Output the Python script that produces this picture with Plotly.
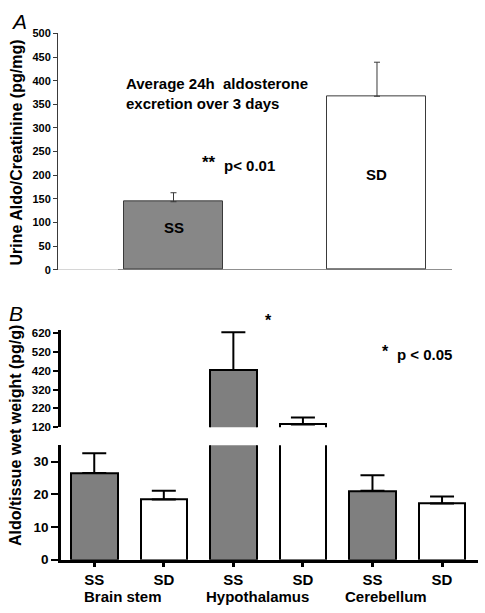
import plotly.graph_objects as go

W, H = 485, 613

# ---------------- Panel A data ----------------
a_groups = ["SS", "SD"]
a_values = [144, 367]
a_errors = [19, 72]
a_colors = ["#878787", "#ffffff"]
a_yticks = [0, 50, 100, 150, 200, 250, 300, 350, 400, 450, 500]

# ---------------- Panel B data ----------------
b_regions = ["Brain stem", "Hypothalamus", "Cerebellum"]
b_strains = ["SS", "SD", "SS", "SD", "SS", "SD"]
b_values = [26.5, 18.4, 424, 134, 21.1, 17.2]
b_errors = [6.0, 2.7, 201, 38, 4.7, 2.1]
b_colors = ["#7f7f7f", "#ffffff", "#7f7f7f", "#ffffff", "#7f7f7f", "#ffffff"]
b_upper_ticks = [120, 220, 320, 420, 520, 620]
b_lower_ticks = [0, 10, 20, 30]

ARIAL = "Liberation Sans, Arial, Helvetica, sans-serif"


def px_x(p):
    return p / W


def px_y(p):
    return (H - p) / H


def note(text, x, y, xref="paper", yref="paper", size=15, bold=True, xanchor="center",
         angle=0, italic=False):
    return dict(text=text, x=x, y=y, xref=xref, yref=yref, xanchor=xanchor, yanchor="middle",
                showarrow=False, textangle=angle, align="left",
                font=dict(family=ARIAL, size=size, color="black",
                          weight="bold" if bold else "normal",
                          style="italic" if italic else "normal"))


fig = go.Figure()

a_x = list(range(len(a_groups)))
fig.add_trace(go.Bar(
    x=a_x, y=a_values, width=0.4865,
    marker=dict(color=a_colors, line=dict(color="#3a3a3a", width=1)),
    error_y=dict(type="data", array=a_errors, arrayminus=[0] * len(a_errors),
                 symmetric=False, color="#3a3a3a", thickness=1, width=3),
    xaxis="x", yaxis="y", showlegend=False, hoverinfo="skip",
))

b_x = list(range(len(b_strains)))
for xa, ya in (("x3", "y3"), ("x2", "y2")):
    fig.add_trace(go.Bar(
        x=b_x, y=b_values, width=0.67,
        marker=dict(color=b_colors, line=dict(color="#000000", width=2)),
        error_y=dict(type="data", array=b_errors, arrayminus=[0] * len(b_errors),
                     symmetric=False, color="#000000", thickness=2, width=12),
        xaxis=xa, yaxis=ya, showlegend=False, hoverinfo="skip",
    ))

annotations = [
    # Panel A
    note("A", px_x(19), px_y(16), size=21, bold=False, italic=True),
    note("Urine Aldo/Creatinine (pg/mg)", px_x(17), px_y(150), size=16, angle=-90),
    note("Average 24h  aldosterone<br>excretion over 3 days", -0.243, 372, "x", "y",
         xanchor="left"),
    note("**", 0.172, 226, "x", "y", size=17),
    note("p< 0.01", 0.238, 221, "x", "y", xanchor="left"),
    # Panel B
    note("B", px_x(16), px_y(315), size=21, bold=False, italic=True),
    note("Aldo/tissue wet weight (pg/g)", px_x(16), px_y(440), size=16, angle=-90),
    note("*", 2.5, px_y(322), "x3", "paper", size=16),
    note("*", 4.18, px_y(354), "x3", "paper", size=16),
    note("p < 0.05", 4.33, px_y(357), "x3", "paper", xanchor="left"),
]
for i, g in enumerate(a_groups):
    annotations.append(note(g, a_x[i], [89, 202][i], "x", "y"))
region_offsets = [0.41, 0.35, 0.19]
for i, r in enumerate(b_regions):
    annotations.append(note(r, 2 * i + region_offsets[i], px_y(604), "x3", "paper"))

shapes = [
    dict(type="line", xref="x", yref="y", x0=-0.5676, x1=-0.273, y0=0, y1=0,
         line=dict(color="#c8c8c8", width=1.5)),
    dict(type="line", xref="x", yref="y", x0=-0.273, x1=1.3686, y0=0, y1=0,
         line=dict(color="#3a3a3a", width=1.2)),
]

fig.update_layout(
    width=W, height=H,
    margin=dict(l=0, r=0, t=0, b=0),
    paper_bgcolor="white", plot_bgcolor="rgba(0,0,0,0)",
    bargap=0, annotations=annotations, shapes=shapes,
    xaxis=dict(domain=[px_x(58), px_x(452)], range=[-0.5676, 1.3686], showline=False,
               showticklabels=False, ticks="", showgrid=False, zeroline=False, anchor="y"),
    yaxis=dict(domain=[px_y(270), px_y(28)], range=[0, 500], tickvals=a_yticks,
               showline=True, linecolor="#3a3a3a", linewidth=1, ticks="outside", ticklen=4,
               tickcolor="#3a3a3a", tickwidth=1, showgrid=False, zeroline=False,
               tickfont=dict(family=ARIAL, size=11, color="black", weight="bold"),
               anchor="x"),
    xaxis2=dict(domain=[px_x(61), px_x(478)], range=[-0.478, 5.517], matches="x3",
                showline=False, showticklabels=False, ticks="", showgrid=False,
                zeroline=False, anchor="y2"),
    yaxis2=dict(domain=[px_y(431), px_y(331.7)], range=[120, 637], tickvals=b_upper_ticks,
                showline=True, linecolor="black", linewidth=2.5, ticks="outside", ticklen=5,
                tickcolor="black", tickwidth=2, showgrid=False, zeroline=False,
                tickfont=dict(family=ARIAL, size=11.5, color="black", weight="bold"),
                anchor="x2"),
    xaxis3=dict(domain=[px_x(61), px_x(478)], range=[-0.478, 5.517], tickvals=b_x,
                ticktext=b_strains, showline=True, linecolor="black", linewidth=2.5,
                ticks="outside", ticklen=4, tickcolor="black", tickwidth=2.5,
                showgrid=False, zeroline=False,
                tickfont=dict(family=ARIAL, size=15, color="black", weight="bold"),
                anchor="y3"),
    yaxis3=dict(domain=[px_y(566.7), px_y(449.4)], range=[0, 35], tickvals=b_lower_ticks,
                showline=True, linecolor="black", linewidth=2.5, ticks="outside", ticklen=7,
                tickcolor="black", tickwidth=2, showgrid=False, zeroline=False,
                tickfont=dict(family=ARIAL, size=13.5, color="black", weight="bold"),
                anchor="x3"),
)

fig.write_html(
    "out.html",
    config={"displayModeBar": False},
    post_script="document.body.style.margin='0';document.body.style.overflow='hidden';",
)
